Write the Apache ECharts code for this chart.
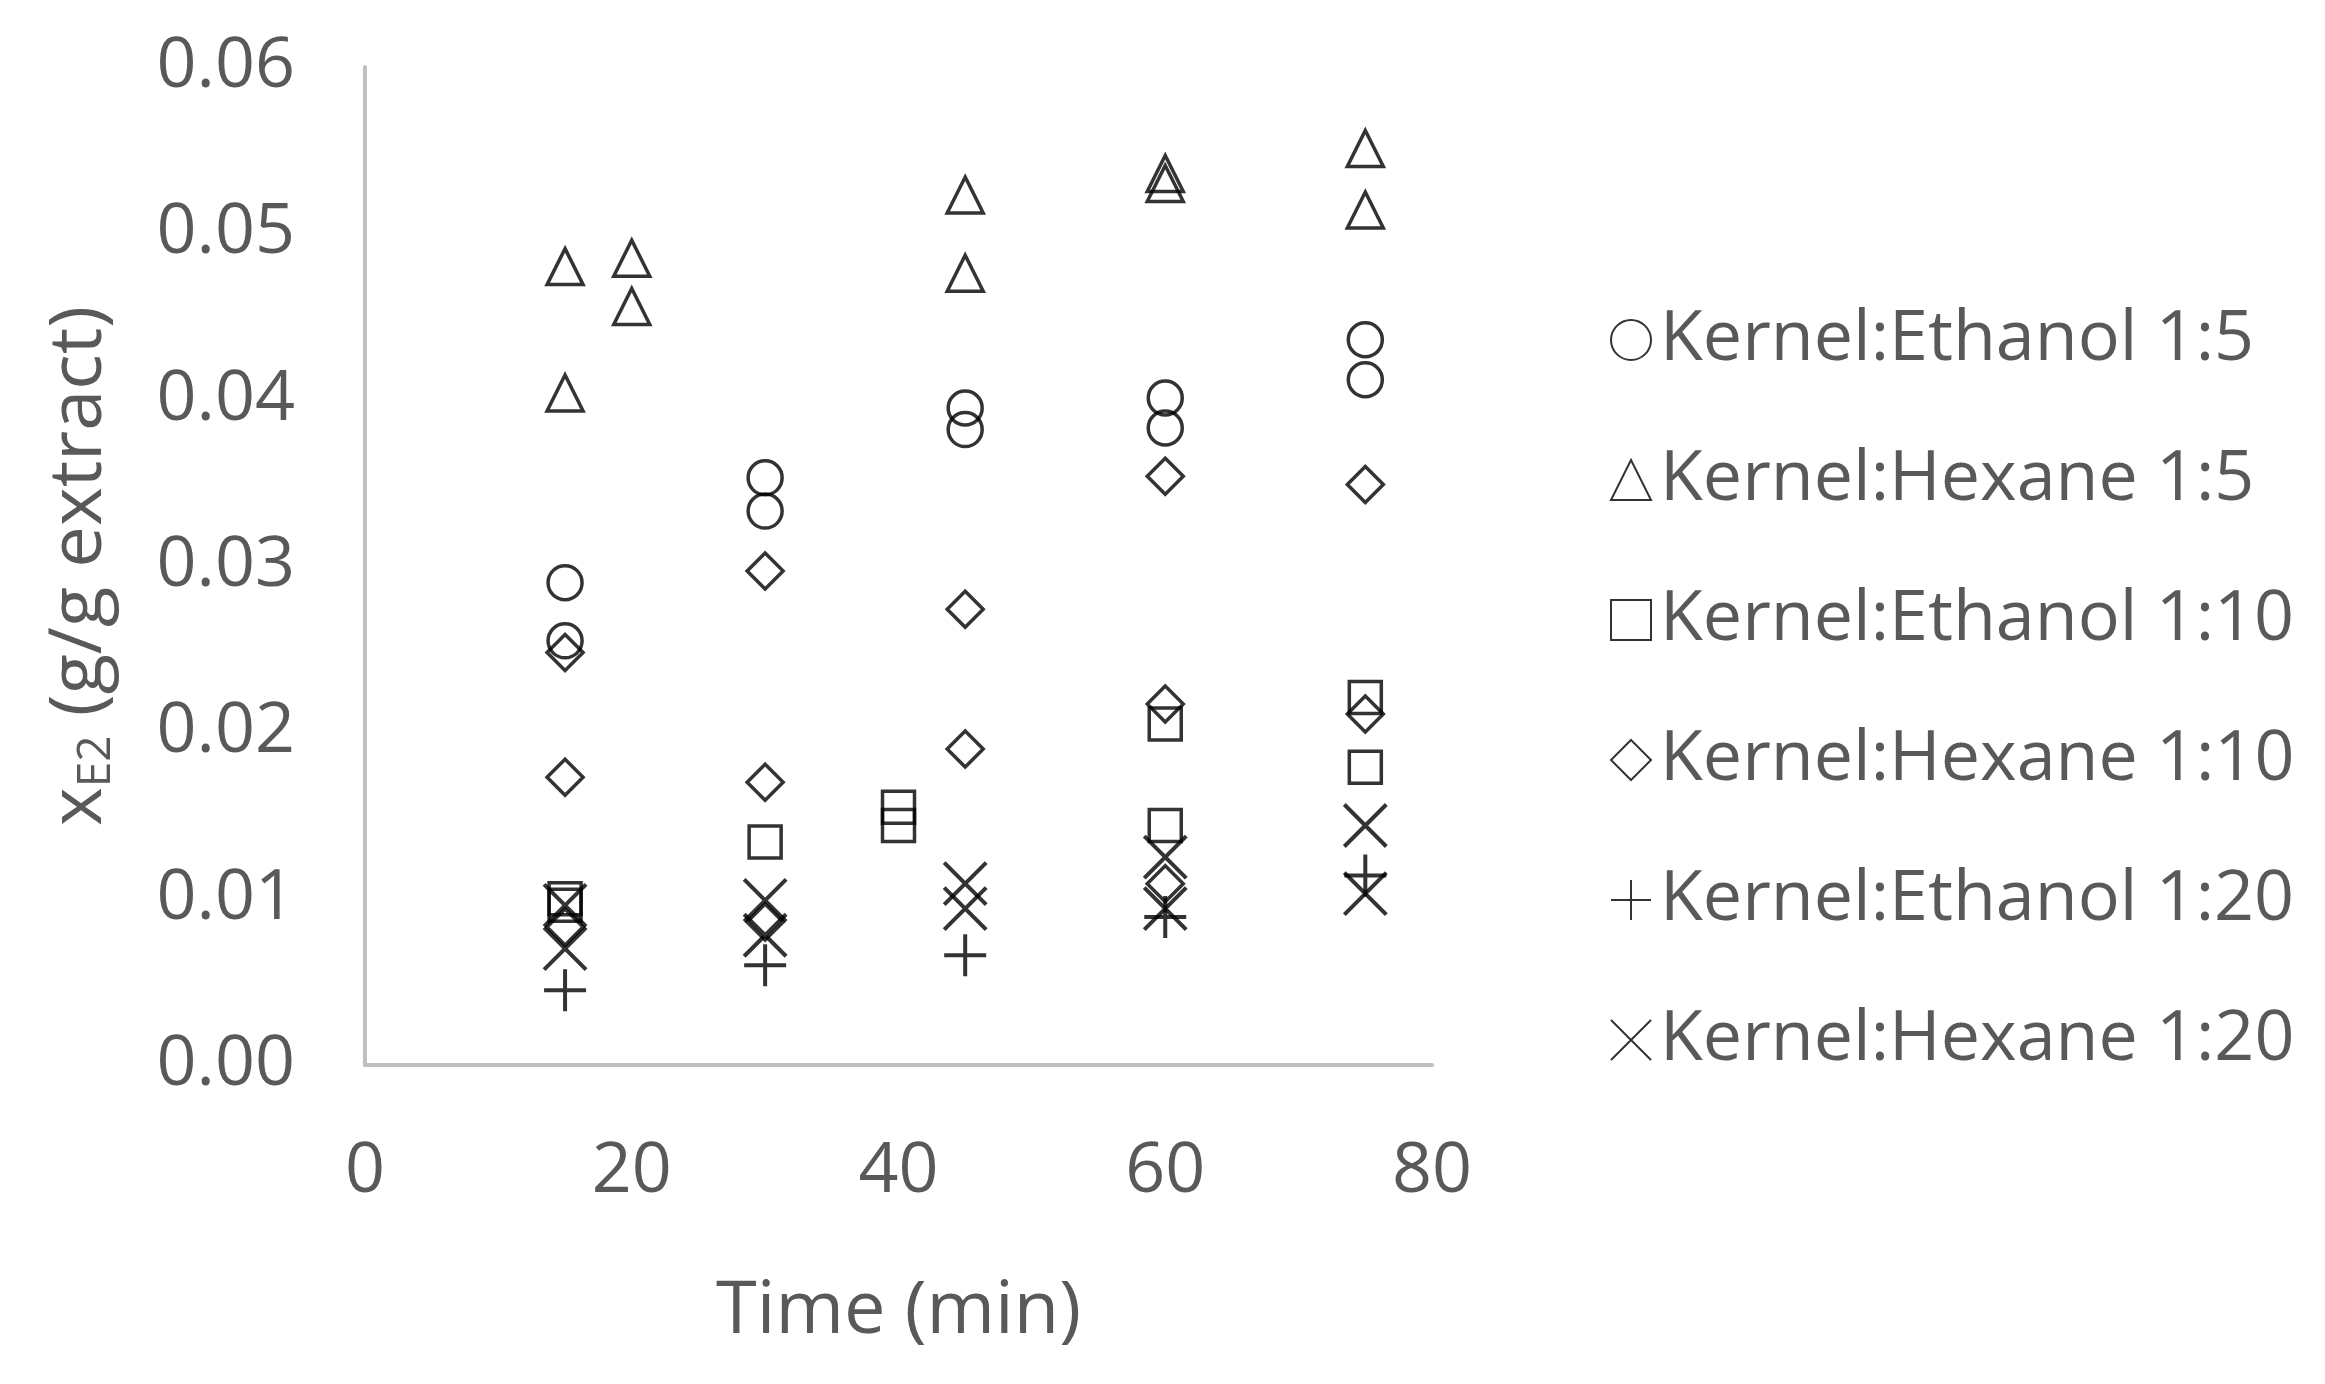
<!DOCTYPE html>
<html><head><meta charset="utf-8">
<script src="https://cdn.jsdelivr.net/npm/echarts@6/dist/echarts.min.js"></script>
<style>html,body{margin:0;background:#fff}#c{width:2325px;height:1384px}</style>
</head><body><div id="c"></div>
<script>
const names = ["Kernel:Ethanol 1:5","Kernel:Hexane 1:5","Kernel:Ethanol 1:10","Kernel:Hexane 1:10","Kernel:Ethanol 1:20","Kernel:Hexane 1:20"];
const ethanol15 = [[15,0.0290],[15,0.0255],[30,0.0353],[30,0.0333],[45,0.0395],[45,0.0382],[60,0.0401],[60,0.0383],[75,0.0436],[75,0.0412]];
const hexane15 = [[15,0.0480],[15,0.0404],[20,0.0485],[20,0.0456],[45,0.0523],[45,0.0476],[60,0.0536],[60,0.0530],[75,0.0551],[75,0.0514]];
const ethanol110 = [[15,0.0100],[15,0.0096],[30,0.0134],[40,0.0155],[40,0.0144],[60,0.0205],[60,0.0144],[75,0.0221],[75,0.0179]];
const hexane110 = [[15,0.0248],[15,0.0173],[15,0.0083],[30,0.0297],[30,0.0170],[30,0.0086],[45,0.0274],[45,0.0190],[60,0.0354],[60,0.0217],[60,0.0109],[75,0.0349],[75,0.0211]];
const ethanol120 = [[15,0.0045],[30,0.0060],[45,0.0066],[60,0.0089],[75,0.0114]];
const hexane120 = [[15,0.0096],[15,0.0070],[30,0.0099],[30,0.0078],[45,0.0109],[45,0.0094],[60,0.0125],[60,0.0094],[75,0.0144],[75,0.0103]];
const xTicks = [0,20,40,60,80];
const yTicks = [0,0.01,0.02,0.03,0.04,0.05,0.06];

const symbols = ['circle','triangle','rect','diamond','path://M0,5L10,5M5,0L5,10','path://M0,0L10,10M10,0L0,10'];
const sizes = [34,36,32,36,42,42];
const datas = [ethanol15,hexane15,ethanol110,hexane110,ethanol120,hexane120];
const gray = '#595959';
const chart = echarts.init(document.getElementById('c'));
chart.setOption({
  animation:false,
  grid:{left:365,right:893,top:67,bottom:319,containLabel:false},
  xAxis:{type:'value',min:0,max:80,interval:20,
    name:'Time (min)',nameLocation:'middle',nameGap:210,
    nameTextStyle:{fontSize:74,color:gray,fontFamily:'Open Sans'},
    axisLine:{lineStyle:{color:'#bfbfbf',width:4}},axisTick:{show:false},splitLine:{show:false},
    axisLabel:{fontSize:70,color:gray,margin:72,fontFamily:'Open Sans'}},
  yAxis:{type:'value',min:0,max:0.06,interval:0.01,
    name:'{a|x}{s|E2}{a| (g/g extract)}',nameLocation:'middle',nameGap:245,nameRotate:90,
    nameTextStyle:{rich:{a:{fontSize:74,color:gray,fontFamily:'Open Sans'},s:{fontSize:46,color:gray,fontFamily:'Open Sans',padding:[34,0,0,0]}}},
    axisLine:{show:true,lineStyle:{color:'#bfbfbf',width:4}},axisTick:{show:false},splitLine:{show:false},
    axisLabel:{fontSize:70,color:gray,margin:70,fontFamily:'Open Sans',formatter:v=>v.toFixed(2)}},
  legend:{orient:'vertical',left:1605,top:300,itemGap:70,itemWidth:40,itemHeight:40,
    textStyle:{fontSize:70,color:gray,fontFamily:'Open Sans',padding:[0,0,0,4]},
    data:names.map((n,i)=>({name:n,icon:symbols[i]}))},
  series:names.map((n,i)=>({
    name:n,type:'scatter',data:datas[i],symbol:symbols[i],symbolSize:sizes[i],
    itemStyle:{color:'rgba(0,0,0,0)',borderColor:'#000',borderWidth:i>=4?4:3.5}
  }))
});
</script></body></html>
